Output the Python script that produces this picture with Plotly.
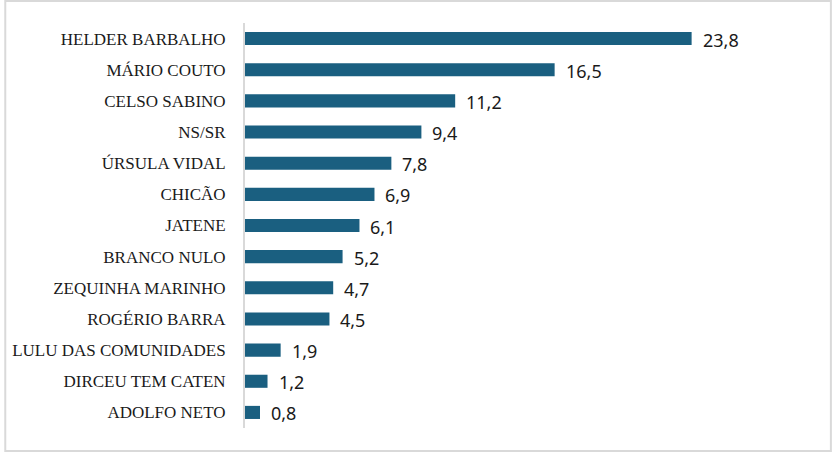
import plotly.graph_objects as go

candidates = ["HELDER BARBALHO", "MÁRIO COUTO", "CELSO SABINO", "NS/SR", "ÚRSULA VIDAL",
              "CHICÃO", "JATENE", "BRANCO NULO", "ZEQUINHA MARINHO", "ROGÉRIO BARRA",
              "LULU DAS COMUNIDADES", "DIRCEU TEM CATEN", "ADOLFO NETO"]
values = [23.8, 16.5, 11.2, 9.4, 7.8, 6.9, 6.1, 5.2, 4.7, 4.5, 1.9, 1.2, 0.8]
value_labels = [f"{v:.1f}".replace(".", ",") for v in values]

W, H = 832, 452
ml, mr, mt, mb = 242, 23, 23, 24
pw, ph = W - ml - mr, H - mt - mb

fig = go.Figure(go.Bar(
    x=values, y=candidates, orientation="h",
    marker=dict(color="#1A5F80", line=dict(width=0)),
    width=0.42, hoverinfo="skip",
))

for v, t, c in zip(values, value_labels, candidates):
    fig.add_annotation(x=v, y=c, text=t, showarrow=False, xanchor="left",
                       xshift=9, yshift=-1,
                       font=dict(family="Noto Sans", size=18, color="#1a1a1a"))

# outer border
fig.add_shape(type="rect", xref="paper", yref="paper",
              x0=(1 - ml) / pw, x1=(W - 1 - ml) / pw,
              y0=-(H - 1 - mt - ph) / ph, y1=1 + (mt - 1) / ph,
              line=dict(color="#d9d9d9", width=2), fillcolor="rgba(0,0,0,0)", layer="below")

fig.update_layout(
    width=W, height=H,
    margin=dict(l=ml, r=mr, t=mt, b=mb),
    paper_bgcolor="white", plot_bgcolor="white",
    showlegend=False,
    xaxis=dict(range=[0, pw / ((692 - ml - 1) / 23.8)], visible=False, fixedrange=True),
    yaxis=dict(autorange="reversed", showline=True, linecolor="#d9d9d9", linewidth=2,
               showgrid=False, ticks="", ticklabelstandoff=14,
               tickfont=dict(family="Liberation Serif", size=17, color="#1a1a1a"),
               fixedrange=True),
)

fig.write_html("out.html", config={"displayModeBar": False},
               post_script="document.body.style.margin='0';document.body.style.overflow='hidden';")
